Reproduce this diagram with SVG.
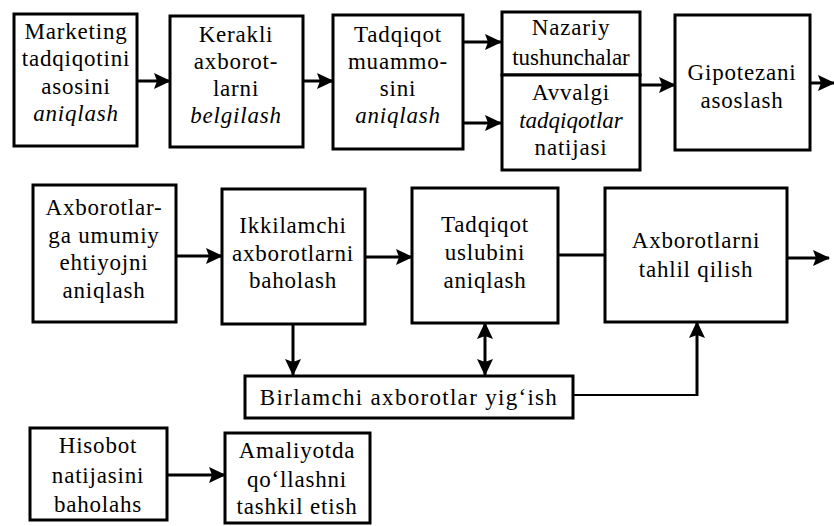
<svg xmlns="http://www.w3.org/2000/svg" width="834" height="526" viewBox="0 0 834 526">
  <style>
    .box { fill: #fff; stroke: #000; stroke-width: 3; }
    .i { font-style: italic; }
    .c { fill: none; stroke: #000; stroke-width: 3; }
    .thin { stroke-width: 2; }
  </style>
  <defs>
    <marker id="arr" markerUnits="userSpaceOnUse" markerWidth="18" markerHeight="16" refX="16" refY="8" orient="auto-start-reverse">
      <path d="M0,0 L17,8 L0,16 L3,8 z" fill="#000"/>
    </marker>
  </defs>
  <rect width="834" height="526" fill="#fff"/>

  <!-- connectors -->
  <g id="connectors">
    <line class="c" x1="137" y1="81" x2="170" y2="81" marker-end="url(#arr)"/>
    <line class="c" x1="303" y1="81" x2="333" y2="81" marker-end="url(#arr)"/>
    <line class="c" x1="463" y1="42" x2="501" y2="42" marker-end="url(#arr)"/>
    <line class="c" x1="463" y1="123" x2="501" y2="123" marker-end="url(#arr)"/>
    <line class="c" x1="640" y1="85" x2="675" y2="85" marker-end="url(#arr)"/>
    <line class="c" x1="810" y1="83" x2="834" y2="83" marker-end="url(#arr)"/>
    <line class="c" x1="176" y1="256" x2="222" y2="256" marker-end="url(#arr)"/>
    <line class="c" x1="365" y1="257" x2="412" y2="257" marker-end="url(#arr)"/>
    <line class="c" x1="558" y1="255" x2="605" y2="255"/>
    <line class="c" x1="787" y1="258" x2="829" y2="258" marker-end="url(#arr)"/>
    <line class="c" x1="293" y1="324" x2="293" y2="375" marker-end="url(#arr)"/>
    <line class="c" x1="485" y1="323" x2="485" y2="375" marker-start="url(#arr)" marker-end="url(#arr)"/>
    <polyline class="c thin" points="573,395 697,395"/>
    <line class="c" x1="697" y1="396" x2="697" y2="322" marker-end="url(#arr)"/>
    <line class="c" x1="167" y1="475" x2="225" y2="475" marker-end="url(#arr)"/>
  </g>

  <g font-family="Liberation Serif, Times New Roman, DejaVu Serif, serif" font-size="23" letter-spacing="0.8" text-anchor="middle" fill="#000">
  <!-- top row -->
  <g id="n-marketing">
    <rect class="box" x="14" y="14" width="123" height="132"/>
    <text x="76" y="39">Marketing</text>
    <text x="76" y="66">tadqiqotini</text>
    <text x="76" y="94">asosini</text>
    <text class="i" x="76" y="121">aniqlash</text>
  </g>
  <g id="n-kerakli">
    <rect class="box" x="170" y="16" width="133" height="131"/>
    <text x="236" y="42">Kerakli</text>
    <text x="236" y="69">axborot-</text>
    <text x="236" y="96">larni</text>
    <text class="i" x="236" y="123">belgilash</text>
  </g>
  <g id="n-muammo">
    <rect class="box" x="333" y="15" width="130" height="134"/>
    <text x="398" y="42">Tadqiqot</text>
    <text x="398" y="69">muammo-</text>
    <text x="398" y="96">sini</text>
    <text class="i" x="398" y="123">aniqlash</text>
  </g>
  <g id="n-nazariy">
    <rect class="box" x="502" y="12" width="138" height="63"/>
    <text x="571" y="35">Nazariy</text>
    <text x="571" y="65" letter-spacing="0">tushunchalar</text>
  </g>
  <g id="n-avvalgi">
    <rect class="box" x="502" y="75" width="138" height="95"/>
    <text x="571" y="100">Avvalgi</text>
    <text class="i" x="571" y="128" letter-spacing="0">tadqiqotlar</text>
    <text x="571" y="155">natijasi</text>
  </g>
  <g id="n-gipoteza">
    <rect class="box" x="675" y="15" width="135" height="135"/>
    <text x="742" y="80">Gipotezani</text>
    <text x="742" y="108">asoslash</text>
  </g>

  <!-- middle row -->
  <g id="n-ehtiyoj">
    <rect class="box" x="33" y="185" width="143" height="137"/>
    <text x="104" y="215">Axborotlar-</text>
    <text x="104" y="243">ga umumiy</text>
    <text x="104" y="270">ehtiyojni</text>
    <text x="104" y="298">aniqlash</text>
  </g>
  <g id="n-ikkilamchi">
    <rect class="box" x="222" y="189" width="143" height="135"/>
    <text x="293" y="233">Ikkilamchi</text>
    <text x="293" y="261">axborotlarni</text>
    <text x="293" y="288">baholash</text>
  </g>
  <g id="n-uslub">
    <rect class="box" x="412" y="188" width="146" height="135"/>
    <text x="485" y="232">Tadqiqot</text>
    <text x="485" y="260">uslubini</text>
    <text x="485" y="288">aniqlash</text>
  </g>
  <g id="n-tahlil">
    <rect class="box" x="605" y="188" width="182" height="134"/>
    <text x="696" y="248">Axborotlarni</text>
    <text x="696" y="277">tahlil qilish</text>
  </g>
  <g id="n-birlamchi">
    <rect class="box" x="245" y="376" width="328" height="42"/>
    <text x="409" y="405" letter-spacing="1.3">Birlamchi axborotlar yig‘ish</text>
  </g>

  <!-- bottom row -->
  <g id="n-hisobot">
    <rect class="box" x="30" y="428" width="137" height="92"/>
    <text x="98" y="453">Hisobot</text>
    <text x="98" y="483">natijasini</text>
    <text x="98" y="512">baholahs</text>
  </g>
  <g id="n-amaliyot">
    <rect class="box" x="225" y="433" width="145" height="90"/>
    <text x="297" y="458">Amaliyotda</text>
    <text x="297" y="487">qo‘llashni</text>
    <text x="297" y="514">tashkil etish</text>
  </g>
  </g>
</svg>
